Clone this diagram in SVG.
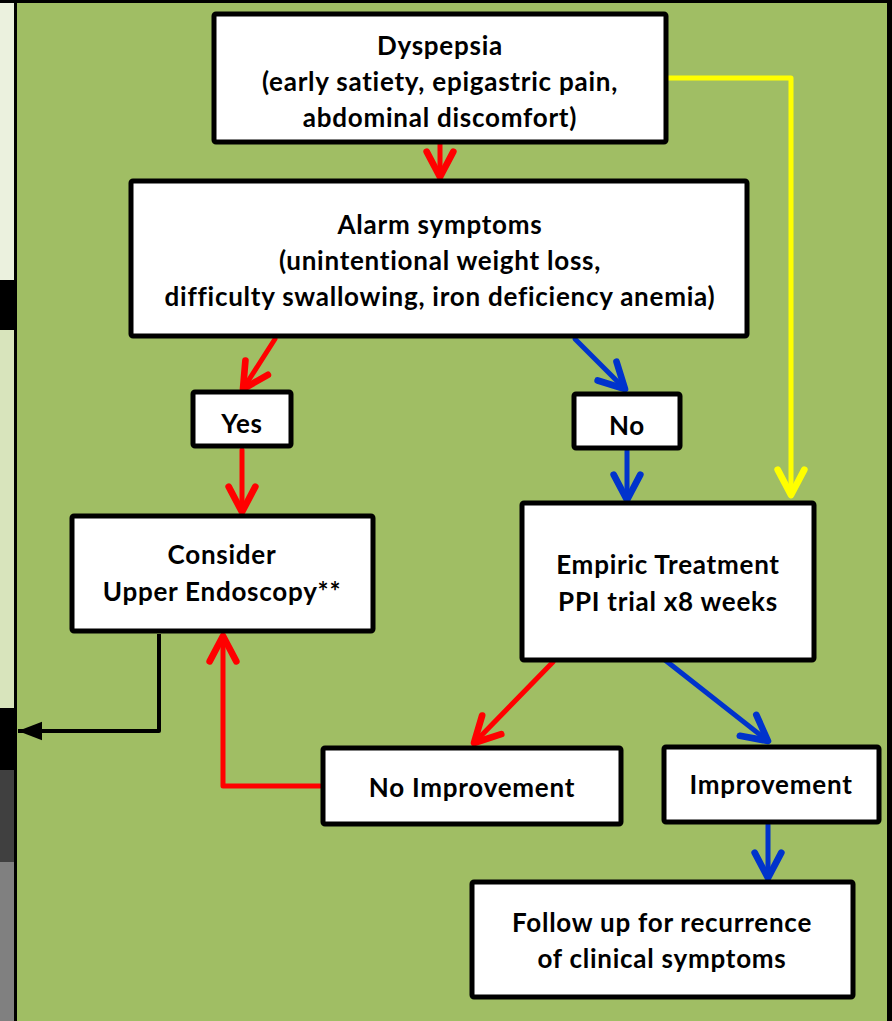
<svg xmlns="http://www.w3.org/2000/svg" width="892" height="1021" viewBox="0 0 892 1021">
<defs>
<style>
.box{fill:#ffffff;stroke:#000000;stroke-width:5;}
.t{font-family:Lato,"Open Sans","Liberation Sans",sans-serif;font-weight:700;font-size:26px;letter-spacing:0.75px;fill:#000000;text-anchor:middle;}
.c{fill:none;stroke-width:5;stroke-linecap:round;stroke-linejoin:round;}
.red{stroke:#FF0000;}
.blue{stroke:#0033CC;}
.yel{stroke:#FFFF00;}
.blk{stroke:#000000;stroke-width:4;stroke-linecap:butt;}
</style>
<marker id="ar" markerUnits="userSpaceOnUse" orient="auto" refX="0" refY="0" markerWidth="40" markerHeight="40" viewBox="-25 -15 30 30" overflow="visible">
<path d="M-19,-10 L0,0 L-19,10" fill="none" stroke="#FF0000" stroke-width="5" stroke-linecap="round" stroke-linejoin="round"/>
</marker>
<marker id="ab" markerUnits="userSpaceOnUse" orient="auto" refX="0" refY="0" markerWidth="40" markerHeight="40" viewBox="-25 -15 30 30" overflow="visible">
<path d="M-19,-10 L0,0 L-19,10" fill="none" stroke="#0033CC" stroke-width="5" stroke-linecap="round" stroke-linejoin="round"/>
</marker>
<marker id="ay" markerUnits="userSpaceOnUse" orient="auto" refX="0" refY="0" markerWidth="40" markerHeight="40" viewBox="-25 -15 30 30" overflow="visible">
<path d="M-19,-10 L0,0 L-19,10" fill="none" stroke="#FFFF00" stroke-width="5" stroke-linecap="round" stroke-linejoin="round"/>
</marker>
<marker id="ak" markerUnits="userSpaceOnUse" orient="auto" refX="0" refY="0" markerWidth="40" markerHeight="40" viewBox="-25 -15 30 30" overflow="visible">
<path d="M-18,-7 L0,0 L-18,7 Z" fill="#000000"/>
</marker>
</defs>

<g id="frame">
<rect x="0" y="0" width="892" height="1021" fill="#A0BE64"/>
<rect x="0" y="0" width="14" height="280" fill="#EBF1DE"/>
<rect x="0" y="280" width="14" height="50" fill="#000000"/>
<rect x="0" y="330" width="14" height="378" fill="#D8E4BC"/>
<rect x="0" y="708" width="14" height="62" fill="#000000"/>
<rect x="0" y="770" width="14" height="92" fill="#404040"/>
<rect x="0" y="862" width="14" height="159" fill="#808080"/>
<rect x="14" y="0" width="3" height="1021" fill="#000000"/>
<rect x="0" y="0" width="892" height="3" fill="#000000"/>
<rect x="887" y="0" width="5" height="1021" fill="#000000"/>
</g>

<g id="connectors">
<path class="c red" d="M440,144 V177" marker-end="url(#ar)"/>
<path class="c red" d="M275,339 L243,389" marker-end="url(#ar)"/>
<path class="c blue" d="M575,339 L625,389" marker-end="url(#ab)"/>
<path class="c red" d="M242,450 V512" marker-end="url(#ar)"/>
<path class="c blue" d="M627,451 V500" marker-end="url(#ab)"/>
<path class="c yel" d="M666,78 H791 V495" marker-end="url(#ay)"/>
<path class="c blk" d="M159,634 V731 H18" marker-end="url(#ak)"/>
<path class="c red" d="M320,786 H223 V636" marker-end="url(#ar)"/>
<path class="c red" d="M553,662 L474,743" marker-end="url(#ar)"/>
<path class="c blue" d="M665,660 L768,741" marker-end="url(#ab)"/>
<path class="c blue" d="M768,825 V878" marker-end="url(#ab)"/>
</g>

<g id="dyspepsia">
<rect class="box" x="214" y="14" width="452" height="128" rx="2"/>
<text class="t" x="440" y="55">Dyspepsia</text>
<text class="t" x="440" y="91">(early satiety, epigastric pain,</text>
<text class="t" x="440" y="127">abdominal discomfort)</text>
</g>

<g id="alarm">
<rect class="box" x="131" y="181" width="616" height="155" rx="2"/>
<text class="t" x="440" y="234">Alarm symptoms</text>
<text class="t" x="440" y="270">(unintentional weight loss,</text>
<text class="t" x="440" y="306">difficulty swallowing, iron deficiency anemia)</text>
</g>

<g id="yes">
<rect class="box" x="193" y="392" width="98" height="54" rx="2"/>
<text class="t" x="242" y="433">Yes</text>
</g>

<g id="no">
<rect class="box" x="574" y="394" width="106" height="54" rx="2"/>
<text class="t" x="627" y="435">No</text>
</g>

<g id="consider">
<rect class="box" x="72" y="516" width="301" height="115" rx="2"/>
<text class="t" x="222" y="564">Consider</text>
<text class="t" x="222" y="601">Upper Endoscopy**</text>
</g>

<g id="empiric">
<rect class="box" x="522" y="503" width="292" height="157" rx="2"/>
<text class="t" x="668" y="574">Empiric Treatment</text>
<text class="t" x="668" y="611">PPI trial x8 weeks</text>
</g>

<g id="noimprovement">
<rect class="box" x="323" y="748" width="298" height="76" rx="2"/>
<text class="t" x="472" y="797">No Improvement</text>
</g>

<g id="improvement">
<rect class="box" x="664" y="747" width="215" height="75" rx="2"/>
<text class="t" x="771" y="794">Improvement</text>
</g>

<g id="followup">
<rect class="box" x="472" y="882" width="381" height="115" rx="2"/>
<text class="t" x="662" y="932">Follow up for recurrence</text>
<text class="t" x="662" y="968">of clinical symptoms</text>
</g>
</svg>
